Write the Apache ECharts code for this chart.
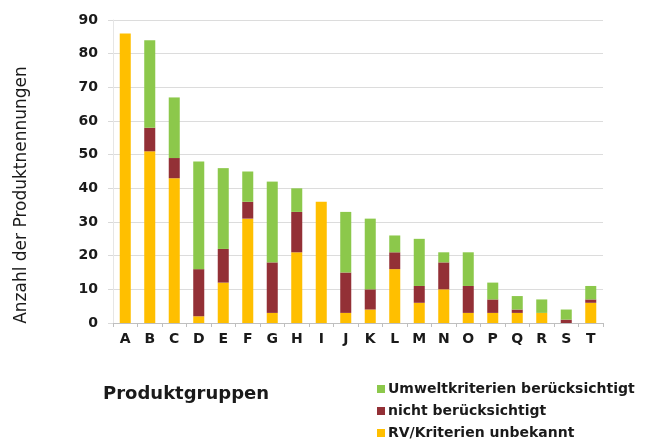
<!DOCTYPE html>
<html>
<head>
<meta charset="utf-8">
<script src="https://cdn.jsdelivr.net/npm/echarts@6/dist/echarts.min.js"></script>
<style>
  html, body { margin: 0; padding: 0; background: #fff; }
  #chart { width: 660px; height: 441px; }
</style>
</head>
<body>
<div id="chart"></div>
<script>
// Produktgruppen A–T
const categories = ['A','B','C','D','E','F','G','H','I','J','K','L','M','N','O','P','Q','R','S','T'];

// Nennungen je Gruppe, gestapelt von unten nach oben
const unbekannt      = [86, 51, 43,  2, 12, 31,  3, 21, 36,  3,  4, 16,  6, 10,  3,  3,  3,  3,  0,  6];
const nichtBeruecks  = [ 0,  7,  6, 14, 10,  5, 15, 12,  0, 12,  6,  5,  5,  8,  8,  4,  1,  0,  1,  1];
const beruecksichtigt= [ 0, 26, 18, 32, 24,  9, 24,  7,  0, 18, 21,  5, 14,  3, 10,  5,  4,  4,  3,  4];

const yTicks = [0, 10, 20, 30, 40, 50, 60, 70, 80, 90];

const seriesNames = {
  green: 'Umweltkriterien berücksichtigt',
  red: 'nicht berücksichtigt',
  yellow: 'RV/Kriterien unbekannt'
};

const yTitle = 'Anzahl der Produktnennungen';
const xTitle = 'Produktgruppen';

const chart = echarts.init(document.getElementById('chart'), null, { renderer: 'canvas' });

const fontFam = '"DejaVu Sans", sans-serif';
const ink = '#1a1a1a';

chart.setOption({
  animation: false,
  backgroundColor: '#ffffff',
  title: {
    text: xTitle,
    left: 103,
    top: 385,
    padding: 0,
    textStyle: { fontFamily: fontFam, fontSize: 18, fontWeight: 'bold', color: ink }
  },
  graphic: [{
    type: 'text',
    x: 22,
    y: 195,
    rotation: Math.PI / 2,
    style: {
      text: yTitle,
      fontFamily: fontFam,
      fontSize: 17,
      fontWeight: 'normal',
      fill: ink,
      align: 'center',
      verticalAlign: 'middle'
    }
  }],
  legend: {
    orient: 'vertical',
    left: 377,
    top: 381,
    padding: 0,
    itemWidth: 8,
    itemHeight: 8,
    itemGap: 6,
    icon: 'rect',
    data: [seriesNames.green, seriesNames.red, seriesNames.yellow],
    textStyle: { fontFamily: fontFam, fontSize: 14, fontWeight: 'bold', color: ink, lineHeight: 16, padding: [0, 0, 0, -2] }
  },
  grid: { left: 113, right: 57, top: 20, bottom: 118, containLabel: false },
  xAxis: {
    type: 'category',
    data: categories,
    axisLine: { show: true, lineStyle: { color: '#bfbfbf', width: 1 } },
    axisTick: { show: true, alignWithLabel: false, length: 4, lineStyle: { color: '#bfbfbf' } },
    axisLabel: { fontFamily: fontFam, fontSize: 14, fontWeight: 'bold', color: ink, margin: 9 }
  },
  yAxis: {
    type: 'value',
    min: yTicks[0],
    max: yTicks[yTicks.length - 1],
    interval: 10,
    axisLine: { show: true, lineStyle: { color: '#e6e6e6' } },
    axisTick: { show: true, length: 5, lineStyle: { color: '#d9d9d9' } },
    axisLabel: { fontFamily: fontFam, fontSize: 14, fontWeight: 'bold', color: ink, margin: 15 },
    splitLine: { show: true, lineStyle: { color: '#dcdcdc', width: 1 } }
  },
  series: [
    {
      name: seriesNames.yellow, type: 'bar', stack: 'total', data: unbekannt,
      barWidth: '45%', itemStyle: { color: '#ffbf00' }
    },
    {
      name: seriesNames.red, type: 'bar', stack: 'total', data: nichtBeruecks,
      barWidth: '45%', itemStyle: { color: '#933036' }
    },
    {
      name: seriesNames.green, type: 'bar', stack: 'total', data: beruecksichtigt,
      barWidth: '45%', itemStyle: { color: '#8cc84b' }
    }
  ]
});
</script>
</body>
</html>
